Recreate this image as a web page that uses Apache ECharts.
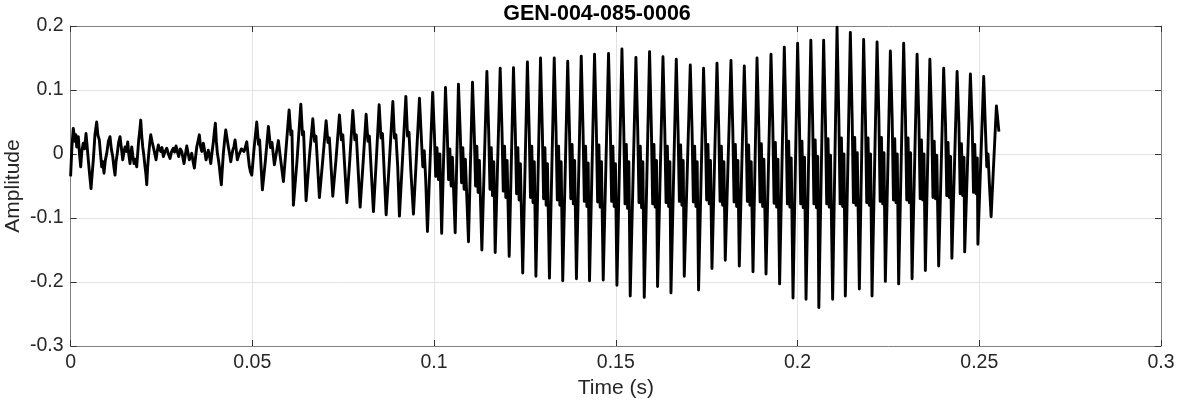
<!DOCTYPE html>
<html>
<head>
<meta charset="utf-8">
<script src="https://cdn.jsdelivr.net/npm/echarts@6/dist/echarts.min.js"></script>
<style>
html,body{margin:0;padding:0;background:#fff;}
#chart{width:1177px;height:404px;}
</style>
</head>
<body>
<div id="chart"></div>
<script>
// Title and axis texts
const chartTitle = 'GEN-004-085-0006';
const xName = 'Time (s)';
const yName = 'Amplitude';
const xTicks = [0, 0.05, 0.1, 0.15, 0.2, 0.25, 0.3];
const yTicks = [-0.3, -0.2, -0.1, 0, 0.1, 0.2];

// Waveform vertices: [time in ms, amplitude]
const onsetNoise = [
[0.00,-0.035],[0.35,0.010],[0.74,0.040],[1.2,0.020],[1.45,0.030],[1.68,0.011],[2.12,0.027],[2.45,0.000],[2.78,-0.020],[3.1,0.005],[3.50,0.017],[3.85,0.008],[4.24,0.032],[4.55,0.012],[4.87,-0.009],[5.2,-0.030],[5.62,-0.054],[5.95,-0.030],[6.25,-0.009],[6.7,0.030],[7.18,0.050],[7.5,0.030],[7.90,0.022],[8.2,0.002],[8.56,-0.020],[8.85,-0.012],[9.19,-0.030],[9.55,-0.010],[9.94,0.001],[10.4,0.020],[10.84,0.027],[11.2,0.008],[11.59,-0.004],[11.9,-0.020],[12.22,-0.033],[12.5,-0.012],[12.85,0.001],[13.2,0.018],[13.60,0.027],[14.0,0.008],[14.34,-0.009],[14.65,0.002],[14.97,0.011],[15.35,0.004],[15.72,0.019],[16.0,0.000],[16.35,-0.015],[16.82,0.011],[17.1,-0.002],[17.45,-0.015],[17.8,-0.008],[18.19,-0.020],[18.45,0.000],[18.74,0.022],[19.0,0.035],[19.30,0.053],[19.55,0.030],[19.85,0.011],[20.15,-0.002],[20.48,-0.020],[20.7,-0.030],[20.95,-0.048],[21.2,-0.020],[21.50,0.001],[21.8,0.018],[22.05,0.030],[22.4,0.020],[22.76,0.011],[23.1,0.002],[23.51,-0.009],[23.8,0.003],[24.14,0.014],[24.45,0.008],[24.80,0.004],[25.15,0.010],[25.52,-0.004],[26.0,0.004],[26.45,0.009],[26.9,0.000],[27.36,-0.007],[27.8,0.004],[28.27,0.009],[28.6,0.003],[29.01,0.0125],[29.4,0.003],[29.75,-0.004],[30.15,0.008],[30.58,0.004],[30.9,-0.006],[31.21,-0.015],[31.6,0.000],[31.96,0.0125],[32.3,0.002],[32.67,-0.009],[33.0,-0.004],[33.33,0.001],[33.7,-0.012],[34.05,-0.022],[34.4,-0.004],[34.71,0.011],[35.05,0.020],[35.42,0.030],[35.75,0.012],[36.09,0.004],[36.53,0.017],[36.9,0.004],[37.27,-0.009],[37.6,-0.002],[37.90,0.006],[38.25,-0.004],[38.56,-0.015],[38.9,0.002],[39.28,0.019],[39.55,0.035],[39.83,0.048],[40.1,0.020],[40.38,0.001],[40.65,-0.008],[40.93,-0.020],[41.2,-0.035],[41.48,-0.048],[41.75,-0.022],[42.03,0.001],[42.35,0.020],[42.69,0.0375],[43.05,0.024],[43.41,0.011],[43.75,0.000],[44.07,-0.012],[44.35,-0.002],[44.62,0.006],[44.95,0.012],[45.25,0.022],[45.55,0.008],[45.88,-0.009],[46.25,-0.002],[46.63,0.001],[47.0,0.008],[47.37,0.011],[47.7,0.004],[48.00,0.009],[48.47,0.019],[48.8,0.000],[49.19,-0.020],[49.5,-0.028],[49.85,-0.033],[50.5,0.010]
];
const buildUp = [
[51.22,0.050],[51.7,0.015],[52.0,0.022],[52.77,-0.056],[53.6,-0.010],[54.42,0.043],[55.0,0.010],[55.4,0.018],[56.07,-0.017],[57.17,0.021],[57.7,-0.005],[58.55,-0.043],[59.3,0.010],[60.12,0.069],[60.6,0.030],[60.9,0.036],[61.30,-0.080],[62.3,-0.010],[63.34,0.078],[63.8,0.030],[64.1,0.035],[64.79,-0.073],[65.7,-0.005],[66.64,0.055],[67.1,0.020],[67.5,0.028],[68.45,-0.068],[69.4,-0.008],[70.30,0.052],[70.8,0.018],[71.2,0.025],[72.14,-0.066],[73.0,-0.010],[73.96,0.061],[74.5,0.022],[74.9,0.030],[76.00,-0.076],[76.8,-0.010],[77.65,0.068],[78.2,0.022],[78.6,0.030],[79.66,-0.083],[80.5,-0.012],[81.31,0.062],[81.8,0.020],[82.2,0.028],[83.32,-0.090],[84.1,-0.010],[84.89,0.077],[85.4,0.025],[85.8,0.032],[86.81,-0.095],[87.7,-0.012],[88.66,0.082],[89.1,0.025],[89.5,0.030],[90.0,-0.020],[90.47,-0.097],[91.3,-0.010],[92.24,0.090],[92.7,0.028],[93.1,0.034],[93.6,-0.025],[94.33,-0.094],[95.1,-0.010],[95.98,0.087],[96.5,0.025],[96.9,-0.020],[97.3,0.005],[97.7,-0.040],[98.18,-0.121],[99.61,0.096],[100.1,0.030],[100.45,-0.035],[100.8,0.010],[101.2,-0.040],[101.6,0.000],[102.09,-0.124]
];
const sustainA = [
[103.14,0.104],[103.64,0.030],[103.99,-0.040],[104.34,0.008],[104.69,-0.050],[105.04,-0.005],[105.81,-0.123],
[106.71,0.109],[107.21,0.032],[107.56,-0.045],[107.91,0.010],[108.26,-0.055],[108.61,-0.008],[109.47,-0.137],
[110.57,0.112],[111.07,0.030],[111.42,-0.050],[111.77,0.012],[112.12,-0.060],[112.47,-0.010],[113.15,-0.150],
[114.53,0.129],[115.03,0.035],[115.38,-0.055],[115.73,0.010],[116.08,-0.065],[116.43,-0.012],[116.82,-0.154],
[118.19,0.134],[118.69,0.036],[119.04,-0.058],[119.39,0.012],[119.74,-0.068],[120.09,-0.010],[120.67,-0.160],
[121.85,0.135],[122.35,0.035],[122.70,-0.062],[123.05,0.010],[123.40,-0.072],[123.75,-0.015],[124.39,-0.186],
[125.68,0.144],[126.18,0.034],[126.53,-0.068],[126.88,0.012],[127.23,-0.076],[127.58,-0.012],[128.02,-0.191],
[129.29,0.150],[129.79,0.036],[130.14,-0.070],[130.49,0.010],[130.84,-0.080],[131.19,-0.015],[131.74,-0.194],
[133.06,0.150],[133.56,0.035],[133.91,-0.072],[134.26,0.012],[134.61,-0.080],[134.96,-0.012],[135.40,-0.198],
[136.77,0.145],[137.27,0.032],[137.62,-0.070],[137.97,0.015],[138.32,-0.078],[138.67,-0.010],[139.17,-0.195],
[140.49,0.153],[140.99,0.036],[141.34,-0.074],[141.69,0.012],[142.04,-0.082],[142.39,-0.014],[142.77,-0.198],
[144.15,0.156],[144.65,0.038],[145.00,-0.075],[145.35,0.014],[145.70,-0.083],[146.05,-0.012],[146.54,-0.197],
[148.00,0.157],[148.50,0.036],[148.85,-0.074],[149.20,0.012],[149.55,-0.082],[149.90,-0.015],[150.31,-0.205],
[151.69,0.164],[152.19,0.038],[152.54,-0.078],[152.89,0.015],[153.24,-0.085],[153.59,-0.012],[153.97,-0.222]
];
const sustainB = [
[155.54,0.151],[156.04,0.036],[156.39,-0.076],[156.74,0.012],[157.09,-0.084],[157.44,-0.012],[157.83,-0.224],
[159.29,0.160],[159.79,0.038],[160.14,-0.078],[160.49,0.015],[160.84,-0.083],[161.19,-0.010],[161.49,-0.207],
[162.98,0.152],[163.48,0.036],[163.83,-0.076],[164.18,0.012],[164.53,-0.082],[164.88,-0.012],[165.18,-0.217],
[166.64,0.148],[167.14,0.034],[167.49,-0.074],[167.84,0.014],[168.19,-0.080],[168.54,-0.010],[168.84,-0.191],
[170.49,0.139],[170.99,0.035],[171.34,-0.075],[171.69,0.012],[172.04,-0.082],[172.39,-0.012],[172.77,-0.2125],
[174.15,0.134],[174.65,0.034],[175.00,-0.072],[175.35,0.015],[175.70,-0.078],[176.05,-0.010],[176.46,-0.179],
[177.84,0.142],[178.34,0.036],[178.69,-0.074],[179.04,0.012],[179.39,-0.080],[179.74,-0.012],[180.12,-0.166],
[181.69,0.146],[182.19,0.038],[182.54,-0.075],[182.89,0.015],[183.24,-0.082],[183.59,-0.010],[183.98,-0.175],
[185.35,0.1375],[185.85,0.036],[186.20,-0.074],[186.55,0.014],[186.90,-0.080],[187.25,-0.012],[187.75,-0.184],
[188.85,0.150],[189.35,0.040],[189.70,-0.075],[190.05,0.016],[190.40,-0.082],[190.75,-0.008],[191.33,-0.1875],
[192.70,0.156],[193.20,0.042],[193.55,-0.077],[193.90,0.018],[194.25,-0.083],[194.60,-0.008],[195.07,-0.203],
[196.36,0.167],[196.86,0.045],[197.21,-0.078],[197.56,0.020],[197.91,-0.083],[198.26,-0.006],[198.76,-0.225],
[200.02,0.173],[200.52,0.048],[200.87,-0.078],[201.22,0.020],[201.57,-0.084],[201.92,-0.005],[202.34,-0.227],
[203.66,0.178],[204.16,0.050],[204.51,-0.078],[204.86,0.022],[205.21,-0.084],[205.56,-0.004],[205.86,-0.240]
];
const decay = [
[207.18,0.178],[207.68,0.052],[208.03,-0.078],[208.38,0.024],[208.73,-0.083],[209.08,-0.002],[209.66,-0.227],
[210.87,0.198],[211.37,0.055],[211.72,-0.078],[212.07,0.025],[212.42,-0.082],[212.77,0.000],[213.15,-0.222],
[214.53,0.190],[215.03,0.056],[215.38,-0.076],[215.73,0.026],[216.08,-0.080],[216.43,0.002],[217.01,-0.211],
[218.19,0.179],[218.69,0.055],[219.04,-0.076],[219.39,0.025],[219.74,-0.080],[220.09,0.000],[220.50,-0.222],
[221.88,0.175],[222.38,0.058],[222.73,-0.074],[223.08,0.026],[223.43,-0.078],[223.78,0.002],[224.16,-0.199],
[225.54,0.161],[226.04,0.055],[226.39,-0.072],[226.74,0.024],[227.09,-0.076],[227.44,0.000],[227.82,-0.203],
[229.20,0.173],[229.70,0.056],[230.05,-0.072],[230.40,0.025],[230.75,-0.076],[231.10,0.002],[231.51,-0.195],
[232.89,0.156],[233.39,0.052],[233.74,-0.070],[234.09,0.022],[234.44,-0.072],[234.79,0.000],[235.17,-0.182],
[236.41,0.148],[236.91,0.050],[237.26,-0.068],[237.61,0.020],[237.96,-0.070],[238.31,-0.002],[238.83,-0.175],
[240.21,0.134],[240.71,0.048],[241.06,-0.065],[241.41,0.018],[241.76,-0.068],[242.11,-0.004],[242.47,-0.163],
[243.90,0.129],[244.40,0.046],[244.75,-0.062],[245.10,0.016],[245.45,-0.065],[245.80,-0.005],[245.99,-0.153],
[247.56,0.125],[248.06,0.044],[248.41,-0.060],[248.76,0.015],[249.11,-0.062],[249.46,-0.006],[249.62,-0.141],
[251.22,0.121],[251.72,0.035],[252.07,-0.020],[252.42,0.000],[252.77,-0.045],[253.26,-0.098],
[254.72,0.075],[255.40,0.035]
];

const waveform = [].concat(onsetNoise, buildUp, sustainA, sustainB, decay)
  .map(p => [p[0] / 1000, p[1]]);

const FONT = '"Liberation Sans", Arial, Helvetica, sans-serif';
const TXT = '#262626';
const FRAME = '#808080';
const GRIDC = '#e3e3e3';

const chart = echarts.init(document.getElementById('chart'), null, {renderer: 'canvas'});

const fmt = v => String(Math.round(v * 1000) / 1000);

const tickStyle = {show: true, inside: true, length: 6, lineStyle: {color: '#333'}};
const frameLine = {show: true, onZero: false, lineStyle: {color: FRAME, width: 1}};

chart.setOption({
  animation: false,
  backgroundColor: '#ffffff',
  title: {
    text: chartTitle,
    left: 592,
    top: -2,
    textAlign: 'center',
    textStyle: {fontFamily: FONT, fontWeight: 'bold', fontSize: 21.5, color: '#000'}
  },
  grid: {left: 70.6, right: 16, top: 26, bottom: 58, containLabel: false, outerBoundsMode: 'none'},
  xAxis: [{
    type: 'value', min: xTicks[0], max: xTicks[xTicks.length - 1], interval: 0.05,
    position: 'bottom',
    name: xName, nameLocation: 'middle', nameGap: 30,
    nameTextStyle: {fontFamily: FONT, fontSize: 21, color: TXT},
    axisLine: frameLine,
    axisTick: tickStyle,
    axisLabel: {fontFamily: FONT, fontSize: 19.5, color: TXT, margin: 7, formatter: fmt},
    splitLine: {show: true, lineStyle: {color: GRIDC, width: 1}}
  }, {
    type: 'value', min: xTicks[0], max: xTicks[xTicks.length - 1], interval: 0.05,
    position: 'top',
    axisLine: frameLine,
    axisTick: tickStyle,
    axisLabel: {show: false},
    splitLine: {show: false}
  }],
  yAxis: [{
    type: 'value', min: yTicks[0], max: yTicks[yTicks.length - 1], interval: 0.1,
    position: 'left',
    name: yName, nameLocation: 'middle', nameGap: 47, nameRotate: 90,
    nameMoveOverlap: false,
    nameTextStyle: {fontFamily: FONT, fontSize: 21, color: TXT},
    axisLine: frameLine,
    axisTick: tickStyle,
    axisLabel: {fontFamily: FONT, fontSize: 19.5, color: TXT, margin: 7, formatter: fmt},
    splitLine: {show: true, lineStyle: {color: GRIDC, width: 1}}
  }, {
    type: 'value', min: yTicks[0], max: yTicks[yTicks.length - 1], interval: 0.1,
    position: 'right',
    axisLine: frameLine,
    axisTick: tickStyle,
    axisLabel: {show: false},
    splitLine: {show: false}
  }],
  series: [{
    type: 'line',
    xAxisIndex: 0, yAxisIndex: 0,
    data: waveform,
    showSymbol: false,
    symbol: 'none',
    smooth: false,
    lineStyle: {color: '#000000', width: 2.9, join: 'round'},
    z: 3
  }]
});
</script>
</body>
</html>
